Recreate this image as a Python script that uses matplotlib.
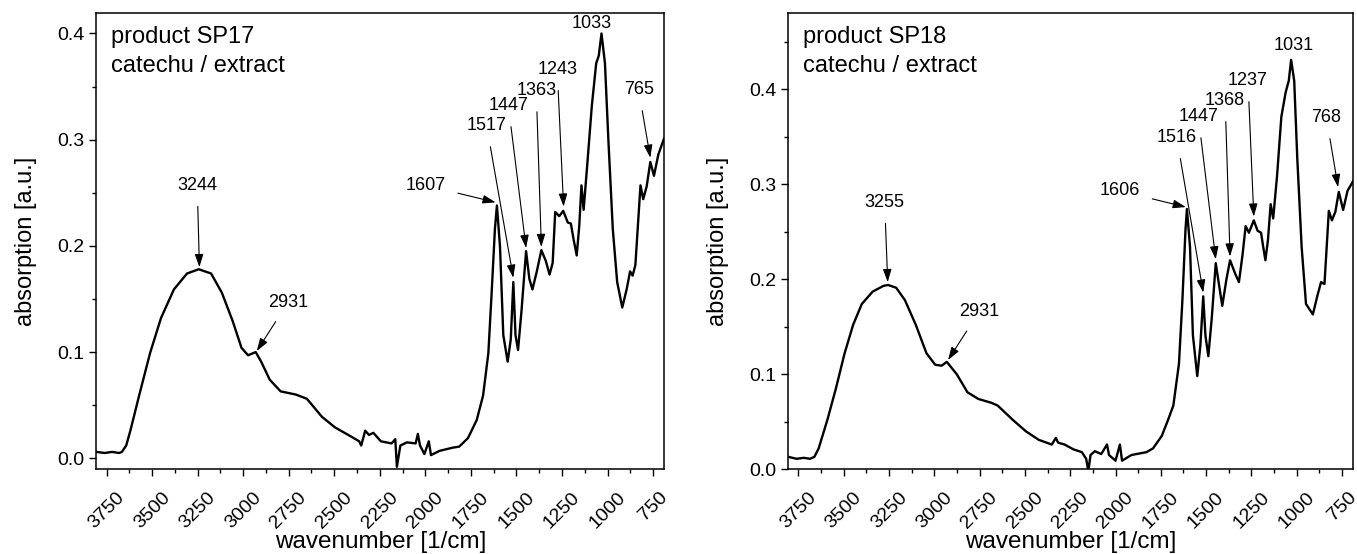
import matplotlib
matplotlib.use('Agg')
from matplotlib import pyplot as plt
from matplotlib.ticker import MultipleLocator

plt.rcParams['font.family'] = ['Liberation Sans', 'DejaVu Sans']

# SP17 spectrum (wavenumber, absorption)
sp17_wn = [3805, 3760, 3720, 3680, 3666, 3642, 3619, 3571, 3511, 3451, 3380, 3308, 3244,
           3176, 3117, 3057, 3009, 2973, 2931, 2901, 2854, 2794, 2710, 2650, 2567, 2495,
           2423, 2363, 2352, 2330, 2309, 2285, 2244, 2185, 2165, 2156, 2137, 2101, 2053,
           2041, 2029, 2005, 1981, 1969, 1922, 1850, 1814, 1766, 1718, 1683, 1654, 1635,
           1618, 1607, 1590, 1572, 1548, 1531, 1517, 1505, 1491, 1472, 1447, 1429, 1412,
           1388, 1363, 1339, 1318, 1301, 1287, 1265, 1243, 1218, 1201, 1186, 1169, 1155,
           1143, 1131, 1110, 1086, 1062, 1048, 1033, 1014, 995, 971, 947, 919, 895, 876,
           862, 847, 819, 804, 785, 765, 745, 721, 690]
sp17_ab = [0.006, 0.005, 0.006, 0.005, 0.006, 0.012, 0.026, 0.059, 0.099, 0.132, 0.159,
           0.174, 0.178, 0.174, 0.156, 0.129, 0.104, 0.097, 0.100, 0.091, 0.074, 0.063,
           0.060, 0.056, 0.039, 0.029, 0.022, 0.016, 0.012, 0.026, 0.022, 0.024, 0.016,
           0.014, 0.018, -0.008, 0.012, 0.015, 0.014, 0.023, 0.012, 0.004, 0.016, 0.003,
           0.007, 0.010, 0.011, 0.019, 0.036, 0.059, 0.099, 0.159, 0.216, 0.238, 0.199,
           0.116, 0.091, 0.112, 0.166, 0.116, 0.102, 0.139, 0.195, 0.169, 0.159, 0.176,
           0.196, 0.186, 0.173, 0.184, 0.232, 0.228, 0.233, 0.222, 0.221, 0.206, 0.191,
           0.219, 0.257, 0.234, 0.279, 0.332, 0.372, 0.379, 0.400, 0.372, 0.299, 0.216,
           0.166, 0.142, 0.159, 0.176, 0.172, 0.182, 0.257, 0.244, 0.256, 0.279, 0.266,
           0.286, 0.301]

# SP18 spectrum
sp18_wn = [3805, 3760, 3720, 3686, 3662, 3638, 3590, 3543, 3495, 3448, 3400, 3340, 3281,
           3255, 3210, 3162, 3102, 3043, 2995, 2960, 2931, 2876, 2817, 2757, 2686, 2650,
           2567, 2495, 2424, 2352, 2329, 2317, 2281, 2233, 2186, 2162, 2150, 2138, 2114,
           2079, 2047, 2036, 2000, 1976, 1964, 1912, 1829, 1793, 1745, 1710, 1681, 1650,
           1631, 1614, 1606, 1589, 1573, 1549, 1532, 1516, 1504, 1488, 1469, 1447, 1428,
           1411, 1388, 1368, 1340, 1319, 1299, 1282, 1264, 1237, 1216, 1197, 1185, 1173,
           1159, 1144, 1130, 1109, 1085, 1061, 1044, 1031, 1014, 997, 973, 949, 911, 887,
           866, 847, 823, 806, 787, 768, 744, 720, 690]
sp18_ab = [0.013, 0.011, 0.012, 0.011, 0.013, 0.022, 0.052, 0.085, 0.122, 0.152, 0.174,
           0.187, 0.193, 0.194, 0.191, 0.178, 0.152, 0.122, 0.110, 0.109, 0.113, 0.100,
           0.081, 0.074, 0.070, 0.067, 0.052, 0.040, 0.031, 0.026, 0.033, 0.028, 0.026,
           0.021, 0.018, 0.011, -0.002, 0.015, 0.019, 0.016, 0.026, 0.015, 0.009, 0.026,
           0.009, 0.015, 0.018, 0.022, 0.035, 0.052, 0.067, 0.111, 0.178, 0.252, 0.274,
           0.234, 0.141, 0.098, 0.130, 0.182, 0.141, 0.119, 0.159, 0.217, 0.193, 0.172,
           0.200, 0.220, 0.206, 0.197, 0.226, 0.256, 0.249, 0.262, 0.251, 0.249, 0.234,
           0.220, 0.241, 0.279, 0.264, 0.308, 0.371, 0.397, 0.409, 0.431, 0.409, 0.327,
           0.234, 0.174, 0.163, 0.182, 0.197, 0.195, 0.272, 0.262, 0.271, 0.292, 0.273,
           0.293, 0.303]

# peak labels: text, text pos (wn, y), arrow tip (wn, y) or None
sp17_labels = ['3244', '2931', '1607', '1517', '1447', '1363', '1243', '1033', '765']
sp17_text_xy = [(3252, 0.257), (2753, 0.147), (1998, 0.257), (1663, 0.313), (1544, 0.332),
                (1391, 0.346), (1276, 0.366), (1085, 0.409), (829, 0.347)]
sp17_tip_xy = [(3240, 0.180), (2925, 0.101), (1614, 0.241), (1517, 0.170), (1447, 0.198),
               (1363, 0.199), (1241, 0.237), None, (765, 0.283)]

sp18_labels = ['3255', '2931', '1606', '1516', '1447', '1368', '1237', '1031', '768']
sp18_text_xy = [(3274, 0.281), (2752, 0.166), (1976, 0.293), (1662, 0.349), (1543, 0.371),
                (1395, 0.388), (1269, 0.409), (1019, 0.446), (836, 0.370)]
sp18_tip_xy = [(3257, 0.197), (2924, 0.115), (1612, 0.276), (1516, 0.186), (1447, 0.221),
               (1368, 0.224), (1237, 0.266), None, (772, 0.297)]

panels = [
    (sp17_wn, sp17_ab, 'product SP17', sp17_labels, sp17_text_xy, sp17_tip_xy, (-0.0103, 0.419)),
    (sp18_wn, sp18_ab, 'product SP18', sp18_labels, sp18_text_xy, sp18_tip_xy, (0.0, 0.48)),
]

fig = plt.figure(figsize=(13.57, 5.54), dpi=100)
ax_pos = [[0.0711, 0.153, 0.4182, 0.823], [0.581, 0.153, 0.416, 0.823]]

for pos, (wn, ab, name, labels, text_xy, tip_xy, ylim) in zip(ax_pos, panels):
    ax = fig.add_axes(pos)
    ax.plot(wn, ab, color='black', lw=1.7)
    ax.set_xlim(3805, 690)
    ax.set_ylim(*ylim)
    ax.xaxis.set_major_locator(MultipleLocator(250))
    ax.xaxis.set_minor_locator(MultipleLocator(125))
    ax.yaxis.set_major_locator(MultipleLocator(0.1))
    ax.yaxis.set_minor_locator(MultipleLocator(0.05))
    ax.yaxis.set_major_formatter(plt.FormatStrFormatter('%.1f'))
    ax.tick_params(which='major', direction='out', length=5, width=1, labelsize=14)
    ax.tick_params(axis='x', which='major', pad=9)
    ax.tick_params(which='minor', direction='out', length=3, width=1)
    plt.setp(ax.get_xticklabels(), rotation=45, ha='center', va='top')
    for s in ax.spines.values():
        s.set_linewidth(1.1)
    ax.set_xlabel('wavenumber [1/cm]', fontsize=17.5)
    ax.xaxis.set_label_coords(0.5, -0.136)
    ax.set_ylabel('absorption [a.u.]', fontsize=17, labelpad=15)
    ax.text(0.025, 0.949, name, transform=ax.transAxes, fontsize=17, ha='left', va='center')
    ax.text(0.025, 0.884, 'catechu / extract', transform=ax.transAxes, fontsize=17,
            ha='left', va='center')
    for lab, txy, tip in zip(labels, text_xy, tip_xy):
        if tip is None:
            ax.text(txy[0], txy[1], lab, ha='center', va='center', fontsize=13)
        else:
            ax.annotate(lab, xy=tip, xytext=txy, ha='center', va='center', fontsize=13,
                        arrowprops=dict(arrowstyle='-|>,head_length=0.6,head_width=0.2',
                                        color='black', lw=0.8, shrinkA=7, shrinkB=0))

fig.savefig('out.png', dpi=100)
